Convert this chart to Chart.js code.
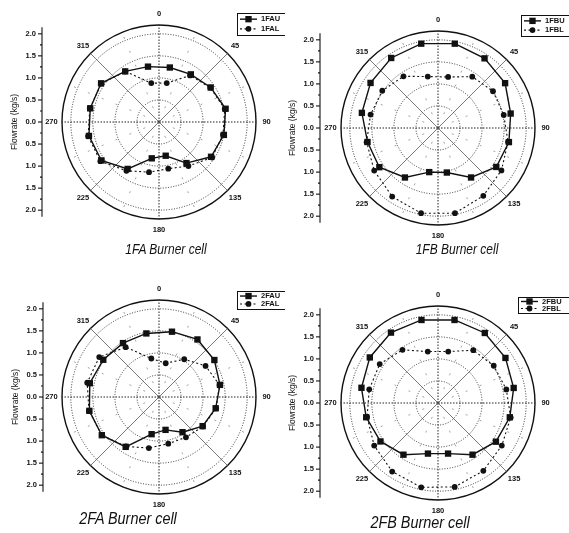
<!DOCTYPE html>
<html>
<head>
<meta charset="utf-8">
<title>Burner cell flowrate</title>
<script src="https://cdn.jsdelivr.net/npm/chart.js@4.4.1/dist/chart.umd.min.js"></script>
<style>
  html, body { margin: 0; padding: 0; background: #fff; }
  #figure { position: relative; width: 569px; height: 533px; overflow: hidden; }
  #figure canvas { position: absolute; }
  .caption {
    position: absolute;
    font-family: 'Liberation Sans', Arial, sans-serif;
    font-style: italic;
    color: #111;
    white-space: nowrap;
    line-height: 1;
  }
</style>
</head>
<body>
<div id="figure">
  <canvas id="c1" width="285" height="262" style="left:0;top:0"></canvas>
  <canvas id="c2" width="285" height="262" style="left:284px;top:0"></canvas>
  <canvas id="c3" width="285" height="262" style="left:0;top:262px"></canvas>
  <canvas id="c4" width="285" height="262" style="left:284px;top:262px"></canvas>

  <div class="caption" style="left:166px;top:248px;font-size:15px;transform:translate(-50%,-50%) scaleX(0.8)">1FA Burner cell</div>
  <div class="caption" style="left:457px;top:248px;font-size:15px;transform:translate(-50%,-50%) scaleX(0.8)">1FB Burner cell</div>
  <div class="caption" style="left:128px;top:519px;font-size:16px;transform:translate(-50%,-50%) scaleX(0.9)">2FA Burner cell</div>
  <div class="caption" style="left:420px;top:523px;font-size:16px;transform:translate(-50%,-50%) scaleX(0.9)">2FB Burner cell</div>
</div>

<script>
// ── measuring positions (deg, clockwise from top) ───
const POINT_ANGLES = [11.25, 33.75, 56.25, 78.75, 101.25, 123.75, 146.25, 168.75,
                      191.25, 213.75, 236.25, 258.75, 281.25, 303.75, 326.25, 348.75];

// ── flowrate per position (kg/s) ────────────────────
const flow1FAU = [1.26, 1.30, 1.41, 1.54, 1.50, 1.42, 1.12, 0.78, 0.84, 1.28, 1.57, 1.62, 1.59, 1.58, 1.38, 1.28];
const flow1FAL = [0.90, 1.27, 1.40, 1.52, 1.48, 1.45, 1.20, 1.08, 1.16, 1.33, 1.60, 1.64, 1.60, 1.57, 1.38, 0.90];

const flow1FBU = [1.95, 1.90, 1.83, 1.68, 1.64, 1.59, 1.35, 1.03, 1.02, 1.35, 1.60, 1.63, 1.76, 1.84, 1.91, 1.95];
const flow1FBL = [1.18, 1.40, 1.50, 1.52, 1.62, 1.73, 1.85, 1.97, 1.97, 1.87, 1.74, 1.65, 1.56, 1.52, 1.41, 1.19];

const flow2FAU = [1.51, 1.57, 1.51, 1.41, 1.31, 1.19, 0.96, 0.76, 0.86, 1.36, 1.56, 1.61, 1.60, 1.52, 1.47, 1.47];
const flow2FAL = [0.78, 1.03, 1.27, 1.40, 1.32, 1.20, 1.10, 1.08, 1.18, 1.35, 1.56, 1.62, 1.66, 1.63, 1.36, 0.89];

const flow2FBU = [1.92, 1.91, 1.84, 1.75, 1.66, 1.58, 1.41, 1.17, 1.17, 1.41, 1.57, 1.66, 1.77, 1.86, 1.92, 1.92];
const flow2FBL = [1.19, 1.44, 1.52, 1.58, 1.68, 1.74, 1.85, 1.94, 1.95, 1.87, 1.74, 1.64, 1.59, 1.59, 1.45, 1.19];

// ── axis ticks ──────────────────────────────────────
const ANGLE_TICKS = [0, 45, 90, 135, 180, 225, 270, 315];
const RING_VALUES = [0, 0.5, 1.0, 1.5, 2.0, 2.2];
const AXIS_TICKS  = [-2.0, -1.5, -1.0, -0.5, 0.0, 0.5, 1.0, 1.5, 2.0];

const R_MAX = 2.2;        // outer solid ring
const LABEL_AT = 2.44;    // radius where the angle labels sit
const STEP = 11.25;       // angular slot width
const INK = '#111';
const TXT = 'bold 7.5px "Liberation Sans", Arial, sans-serif';

// 32 slots round the circle, measuring points sit on the odd ones
const SLOT_ANGLES = [];
for (let a = 0; a < 360; a += STEP) SLOT_ANGLES.push(a);

function toSlots(values) {
  return SLOT_ANGLES.map(a => {
    const i = POINT_ANGLES.indexOf(a);
    return i < 0 ? null : values[i];
  });
}

// ── panels ──────────────────────────────────────────
const W = 285, H = 262, R = 97;
const PANELS = [
  { id: 'c1', cx: 159, cy: 122, axisX: 42, legend: [237, 13, 50, 22], names: ['1FAU', '1FAL'], upper: flow1FAU, lower: flow1FAL },
  { id: 'c2', cx: 154, cy: 128, axisX: 36, legend: [237, 15, 50, 21], names: ['1FBU', '1FBL'], upper: flow1FBU, lower: flow1FBL },
  { id: 'c3', cx: 159, cy: 135, axisX: 43, legend: [237, 29, 50, 18], names: ['2FAU', '2FAL'], upper: flow2FAU, lower: flow2FAL },
  { id: 'c4', cx: 154, cy: 141, axisX: 36, legend: [234, 35, 52, 16], names: ['2FBU', '2FBL'], upper: flow2FBU, lower: flow2FBL },
];

// ── drawing helpers ─────────────────────────────────
function marker(ctx, style, x, y, r) {
  ctx.beginPath();
  if (style === 'rect') {
    const h = r * Math.SQRT1_2;
    ctx.rect(x - h, y - h, 2 * h, 2 * h);
  } else {
    ctx.arc(x, y, r, 0, Math.PI * 2);
  }
  ctx.fill();
}

// angle labels, left flowrate axis and boxed legend
const polarExtras = {
  id: 'polarExtras',
  afterDraw(chart, args, opts) {
    const s = chart.scales.r;
    const ctx = chart.ctx;
    ctx.save();
    ctx.fillStyle = INK;
    ctx.strokeStyle = INK;
    ctx.font = TXT;

    // angle labels
    ctx.textAlign = 'center';
    ctx.textBaseline = 'middle';
    const labR = s.getDistanceFromCenterForValue(LABEL_AT);
    ANGLE_TICKS.forEach(a => {
      const p = s.getPointPosition(a / STEP, labR);
      ctx.fillText(String(a), p.x, p.y);
    });

    // left axis
    const x0 = opts.axisX;
    const yAt = v => s.yCenter - Math.sign(v) * s.getDistanceFromCenterForValue(Math.abs(v));
    ctx.lineWidth = 1.1;
    ctx.beginPath();
    ctx.moveTo(x0, yAt(R_MAX - 0.05));
    ctx.lineTo(x0, yAt(-(R_MAX - 0.05)));
    ctx.stroke();

    ctx.textAlign = 'right';
    AXIS_TICKS.forEach((v, i) => {
      const y = yAt(v);
      ctx.beginPath();
      ctx.moveTo(x0 - 4, y);
      ctx.lineTo(x0, y);
      ctx.stroke();
      ctx.fillText(Math.abs(v).toFixed(1), x0 - 6, y);
      if (i < AXIS_TICKS.length - 1) {
        const ym = yAt((v + AXIS_TICKS[i + 1]) / 2);
        ctx.beginPath();
        ctx.moveTo(x0 - 2, ym);
        ctx.lineTo(x0, ym);
        ctx.stroke();
      }
    });

    ctx.save();
    ctx.translate(x0 - 27, s.yCenter);
    ctx.rotate(-Math.PI / 2);
    ctx.textAlign = 'center';
    ctx.font = '8.5px "Liberation Sans", Arial, sans-serif';
    ctx.fillText('Flowrate (kg/s)', 0, 0);
    ctx.restore();

    // legend
    const [lx, ly, lw, lh] = opts.legend;
    ctx.lineWidth = 1;
    ctx.setLineDash([]);
    ctx.strokeRect(lx + 0.5, ly + 0.5, lw, lh);
    ctx.textAlign = 'left';
    chart.data.datasets.forEach((ds, i) => {
      const y = ly + lh * (i === 0 ? 0.28 : 0.72);
      ctx.save();
      ctx.lineWidth = ds.borderWidth;
      ctx.setLineDash(ds.borderDash || []);
      ctx.beginPath();
      ctx.moveTo(lx + 3, y);
      ctx.lineTo(lx + 20, y);
      ctx.stroke();
      ctx.restore();
      marker(ctx, ds.pointStyle, lx + 11.5, y, ds.pointRadius);
      ctx.fillText(ds.label, lx + 24, y);
    });
    ctx.restore();
  }
};

// ── build the four polar plots ──────────────────────
PANELS.forEach(p => {
  new Chart(document.getElementById(p.id), {
    type: 'radar',
    data: {
      labels: SLOT_ANGLES,
      datasets: [
        {
          label: p.names[0],
          data: toSlots(p.upper),
          spanGaps: true,
          fill: false,
          borderColor: INK,
          borderWidth: 1.4,
          pointStyle: 'rect',
          pointRadius: 4.5,
          pointBackgroundColor: INK,
          pointBorderWidth: 0,
        },
        {
          label: p.names[1],
          data: toSlots(p.lower),
          spanGaps: true,
          fill: false,
          borderColor: INK,
          borderWidth: 1.1,
          borderDash: [2, 2.5],
          pointStyle: 'circle',
          pointRadius: 2.9,
          pointBackgroundColor: INK,
          pointBorderWidth: 0,
        },
      ],
    },
    options: {
      responsive: false,
      animation: false,
      layout: {
        padding: { left: p.cx - R, top: p.cy - R, right: W - p.cx - R, bottom: H - p.cy - R },
      },
      elements: { line: { tension: 0 } },
      plugins: {
        legend: { display: false },
        tooltip: { enabled: false },
        polarExtras: { axisX: p.axisX, legend: p.legend },
      },
      scales: {
        r: {
          min: 0,
          max: R_MAX,
          startAngle: 0,
          afterBuildTicks: s => { s.ticks = RING_VALUES.map(v => ({ value: v })); },
          ticks: { display: false },
          pointLabels: { display: false },
          grid: {
            circular: true,
            color: c => c.tick.value === R_MAX ? INK : '#222',
            lineWidth: c => c.tick.value === R_MAX ? 1.4 : 0.9,
          },
          border: { dash: c => c.tick.value === R_MAX ? [] : [1, 1.6] },
          angleLines: {
            color: c => c.index % 8 === 0 ? '#222' : c.index % 4 === 0 ? '#555' : '#8a8a8a',
            lineWidth: c => c.index % 2 ? 0 : (c.index % 8 === 0 ? 1 : 0.8),
            borderDash: c => c.index % 8 === 0 ? [1.5, 1.5] : (c.index % 4 === 0 ? [] : [2, 13]),
          },
        },
      },
    },
    plugins: [polarExtras],
  });
});
</script>
</body>
</html>
